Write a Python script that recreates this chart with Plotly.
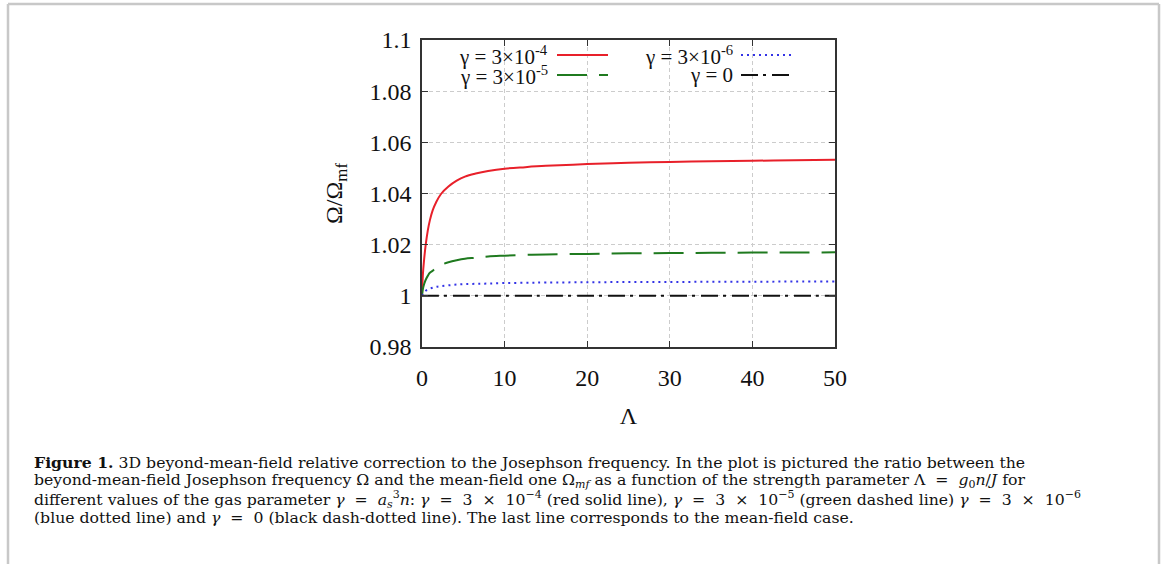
import plotly.graph_objects as go

# ---- data ----
lam = [0, 0.1, 0.25, 0.45, 0.7, 0.95, 1.3, 1.7, 2.3, 3.2, 4.2, 5.2, 6.5, 8, 10,
       12.5, 15, 20, 25, 30, 35, 40, 45, 50]
ratio_g3e4 = [1.0, 1.008, 1.014, 1.020, 1.0255, 1.0295, 1.0335, 1.0365, 1.0398, 1.0427,
              1.0450, 1.0466, 1.0478, 1.0488, 1.0497, 1.0503, 1.0508, 1.0515, 1.0520,
              1.0523, 1.0526, 1.0528, 1.0530, 1.0532]
ratio_g3e5 = [1.0, 1.0025, 1.0045, 1.0063, 1.0078, 1.0090, 1.0098, 1.0110, 1.0121, 1.0131,
              1.0139, 1.0145, 1.0149, 1.0154, 1.0157, 1.0160, 1.0162, 1.0164, 1.0166,
              1.0167, 1.0168, 1.0169, 1.0169, 1.0170]
ratio_g3e6 = [1.0, 1.0008, 1.0014, 1.0020, 1.0024, 1.0028, 1.0032, 1.0035, 1.0038, 1.0041,
              1.0044, 1.0046, 1.0047, 1.0048, 1.0050, 1.0051, 1.0052, 1.0053, 1.0054,
              1.0054, 1.0055, 1.0055, 1.0056, 1.0056]
ratio_g0 = [1.0] * len(lam)

x_ticks = [0, 10, 20, 30, 40, 50]
y_ticks = [0.98, 1.0, 1.02, 1.04, 1.06, 1.08, 1.1]
y_ticktext = ["0.98", "1", "1.02", "1.04", "1.06", "1.08", "1.1"]

legend_labels = ["γ = 3×10<sup>-4</sup>", "γ = 3×10<sup>-5</sup>",
                 "γ = 3×10<sup>-6</sup>", "γ = 0"]

S = "&nbsp;"
S2 = "&nbsp;&nbsp;"
caption_lines = [
    "<b>Figure 1.</b> 3D beyond-mean-field relative correction to the Josephson frequency. "
    "In the plot is pictured the ratio between the",
    "beyond-mean-field Josephson frequency Ω and the mean-field one Ω<sub><i>mf</i></sub> as a "
    f"function of the strength parameter Λ{S2}={S2}<i>g</i><sub>0</sub><i>n</i>/<i>J</i> for",
    f"different values of the gas parameter <i>γ</i>{S2}={S2}<i>a</i><sub><i>s</i></sub><sup>3</sup><i>n</i>: "
    f"<i>γ</i>{S2}={S2}3{S2}×{S2}10<sup>−4</sup> (red solid line), "
    f"<i>γ</i>{S2}={S2}3{S2}×{S2}10<sup>−5</sup> "
    f"(green dashed line) <i>γ</i>{S2}={S2}3{S2}×{S2}10<sup>−6</sup>",
    f"(blue dotted line) and <i>γ</i>{S2}={S2}0 (black dash-dotted line). The last line corresponds "
    "to the mean-field case.",
]

# ---- styles ----
RED = "#e8202a"
GREEN = "#1f7a1f"
BLUE = "#3333e6"
BLACK = "#111111"
SERIF = "Liberation Serif, Times New Roman, serif"
CAP_FONT = "DejaVu Serif, serif"

W, H = 1167, 564
ML, MR, MT, MB = 422, 332, 40, 217
PW, PH = W - ML - MR, H - MT - MB


def px(x):
    return (x - ML) / PW


def py(y):
    return (H - MB - y) / PH


fig = go.Figure()
series = [
    (ratio_g3e4, RED, "solid", 2),
    (ratio_g3e5, GREEN, "30px,12px", 2),
    (ratio_g3e6, BLUE, "2px,4px", 2),
    (ratio_g0, BLACK, "17px,5px,3px,6px", 2),
]
for vals, col, dash, w in series:
    fig.add_trace(go.Scatter(x=lam, y=vals, mode="lines",
                             line=dict(color=col, dash=dash, width=w, shape="spline"),
                             showlegend=False, hoverinfo="skip"))

shapes = []
annotations = []

# opaque key box
shapes.append(dict(type="rect", xref="paper", yref="paper", layer="between",
                   x0=px(431), x1=px(806), y0=py(86), y1=py(44),
                   fillcolor="white", line=dict(width=0)))

# legend entries: (text right edge, row y, sample x0, x1, color, dash)
legend_pos = [
    (550, 55, 557, 608, RED, "solid"),
    (550, 75, 557, 608, GREEN, "30px,12px"),
    (735, 55, 741, 792, BLUE, "2px,4px"),
    (735, 75, 741, 792, BLACK, "17px,5px,3px,6px"),
]
for lbl, (xr, yy, s0, s1, col, dash) in zip(legend_labels, legend_pos):
    annotations.append(dict(text=lbl, xref="paper", yref="paper", x=px(xr), y=py(yy),
                            xanchor="right", yanchor="middle", showarrow=False,
                            font=dict(family=SERIF, size=21, color="#111")))
    shapes.append(dict(type="line", xref="paper", yref="paper",
                       x0=px(s0), x1=px(s1), y0=py(yy), y1=py(yy),
                       line=dict(color=col, dash=dash, width=2)))

# outer gray border (open at the bottom)
for (x0, y0, x1, y1) in [(8, 4, 8, 564), (8, 4, 1159, 4), (1159, 4, 1159, 564)]:
    shapes.append(dict(type="line", xref="paper", yref="paper",
                       x0=px(x0), y0=py(y0), x1=px(x1), y1=py(y1),
                       line=dict(color="#c8c8c8", width=2.5)))

# caption
cap_y = [462, 480.5, 499, 517.5]
for line, yy in zip(caption_lines, cap_y):
    annotations.append(dict(text=line, xref="paper", yref="paper", x=px(32), y=py(yy),
                            xanchor="left", yanchor="middle", showarrow=False, align="left",
                            font=dict(family=CAP_FONT, size=15.7, color="#111")))

axis_common = dict(showline=True, linecolor="#333", linewidth=1.5, mirror="ticks",
                   ticks="inside", ticklen=6, tickcolor="#333", tickwidth=1,
                   showgrid=True, gridcolor="#cccccc", griddash="4px,3px", gridwidth=1,
                   zeroline=False,
                   tickfont=dict(family=SERIF, size=24, color="#111"))

fig.update_xaxes(range=[0, 50], tickvals=x_ticks, ticklabelstandoff=8,
                 title=dict(text="Λ", font=dict(family=SERIF, size=24, color="#111"),
                            standoff=18),
                 **axis_common)
fig.update_yaxes(range=[0.98, 1.1], tickvals=y_ticks, ticktext=y_ticktext,
                 ticklabelstandoff=4,
                 title=dict(text="Ω/Ω<sub>mf</sub>", font=dict(family=SERIF, size=24, color="#111"),
                            standoff=20),
                 **axis_common)

fig.update_layout(width=W, height=H, margin=dict(l=ML, r=MR, t=MT, b=MB),
                  paper_bgcolor="white", plot_bgcolor="white",
                  shapes=shapes, annotations=annotations, showlegend=False)

fig.write_html("out.html", config={"displayModeBar": False},
               post_script="document.body.style.margin='0';document.body.style.overflow='hidden';")
